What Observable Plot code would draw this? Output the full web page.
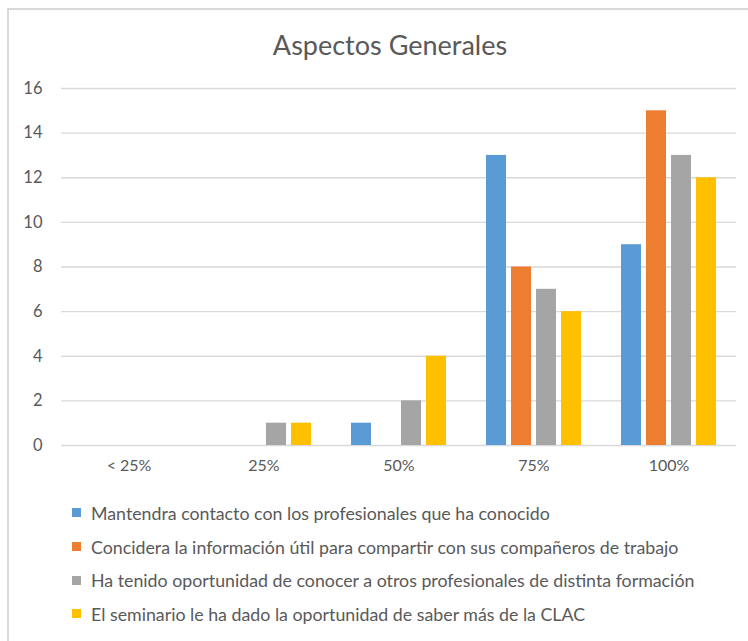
<!DOCTYPE html>
<html>
<head>
<meta charset="utf-8">
<script src="https://cdn.jsdelivr.net/npm/d3@7"></script>
<script src="https://cdn.jsdelivr.net/npm/@observablehq/plot@0.6"></script>
<style>
  html, body { margin: 0; padding: 0; background: #fff; }
  body { width: 748px; height: 641px; overflow: hidden; position: relative; font-family: Lato, "Open Sans", sans-serif; color: #595959; }
  #frame { position: absolute; left: 7px; top: 8px; width: 760px; height: 660px; border-top: 2px solid #D9D9D9; border-left: 2px solid #D9D9D9; box-sizing: border-box; }
  #title { position: absolute; left: 16px; top: 0; width: 748px; height: 70px; text-align: center; font-size: 27px; line-height: 90px; color: #595959; }
  #chart { position: absolute; left: 0; top: 70px; }
  #legend { position: absolute; left: 72px; top: 496px; }
  .item { height: 33.7px; display: flex; align-items: center; font-size: 17.8px; color: #595959; white-space: nowrap; }
  .sw { width: 9px; height: 9px; margin-right: 10px; flex: none; }
</style>
</head>
<body>
<div id="frame"></div>
<div id="title">Aspectos Generales</div>
<div id="chart"></div>
<div id="legend"></div>
<script>
const titleText = "Aspectos Generales";
const categories = ["< 25%", "25%", "50%", "75%", "100%"];
const seriesNames = [
  "Mantendra contacto con los profesionales que ha conocido",
  "Concidera la información útil para compartir con sus compañeros de trabajo",
  "Ha tenido oportunidad de conocer a otros profesionales de distinta formación",
  "El seminario le ha dado la oportunidad de saber más de la CLAC"
];
const seriesColors = ["#5B9BD5", "#ED7D31", "#A5A5A5", "#FFC000"];
const mantendra = [0, 0, 1, 13, 9];
const concidera = [0, 0, 0, 8, 15];
const haTenido  = [0, 1, 2, 7, 13];
const seminario = [0, 1, 4, 6, 12];
const yTicks = [0, 2, 4, 6, 8, 10, 12, 14, 16];

const seriesValues = [mantendra, concidera, haTenido, seminario];
const data = [];
categories.forEach((c, i) => {
  seriesNames.forEach((s, j) => {
    data.push({category: c, series: s, value: seriesValues[j][i]});
  });
});

const plot = Plot.plot({
  width: 748,
  height: 410,
  marginTop: 18,
  marginBottom: 35,
  marginLeft: 59,
  marginRight: 11,
  style: {fontFamily: "Lato, 'Open Sans', sans-serif", fontSize: "16px", color: "#595959", background: "transparent"},
  fx: {domain: categories, padding: 0, label: null},
  x: {domain: seriesNames, paddingInner: 0.22, paddingOuter: 0.77, axis: null},
  y: {domain: [0, 16], label: null},
  color: {domain: seriesNames, range: seriesColors},
  marks: [
    Plot.ruleY(yTicks, {stroke: "#D9D9D9", strokeWidth: 1.3}),
    Plot.barY(data, {fx: "category", x: "series", y: "value", fill: "series"}),
    Plot.axisY({ticks: yTicks, tickSize: 0, tickPadding: 19, label: null, fill: "#595959", fontSize: 16.5}),
    Plot.axisFx({anchor: "bottom", tickSize: 0, tickPadding: 14, label: null, fill: "#595959", fontSize: 16})
  ]
});
document.getElementById("chart").appendChild(plot);
document.getElementById("title").textContent = titleText;

const legend = document.getElementById("legend");
seriesNames.forEach((s, j) => {
  const item = document.createElement("div");
  item.className = "item";
  const sw = document.createElement("span");
  sw.className = "sw";
  sw.style.background = seriesColors[j];
  const t = document.createElement("span");
  t.textContent = s;
  item.appendChild(sw);
  item.appendChild(t);
  legend.appendChild(item);
});
</script>
</body>
</html>
